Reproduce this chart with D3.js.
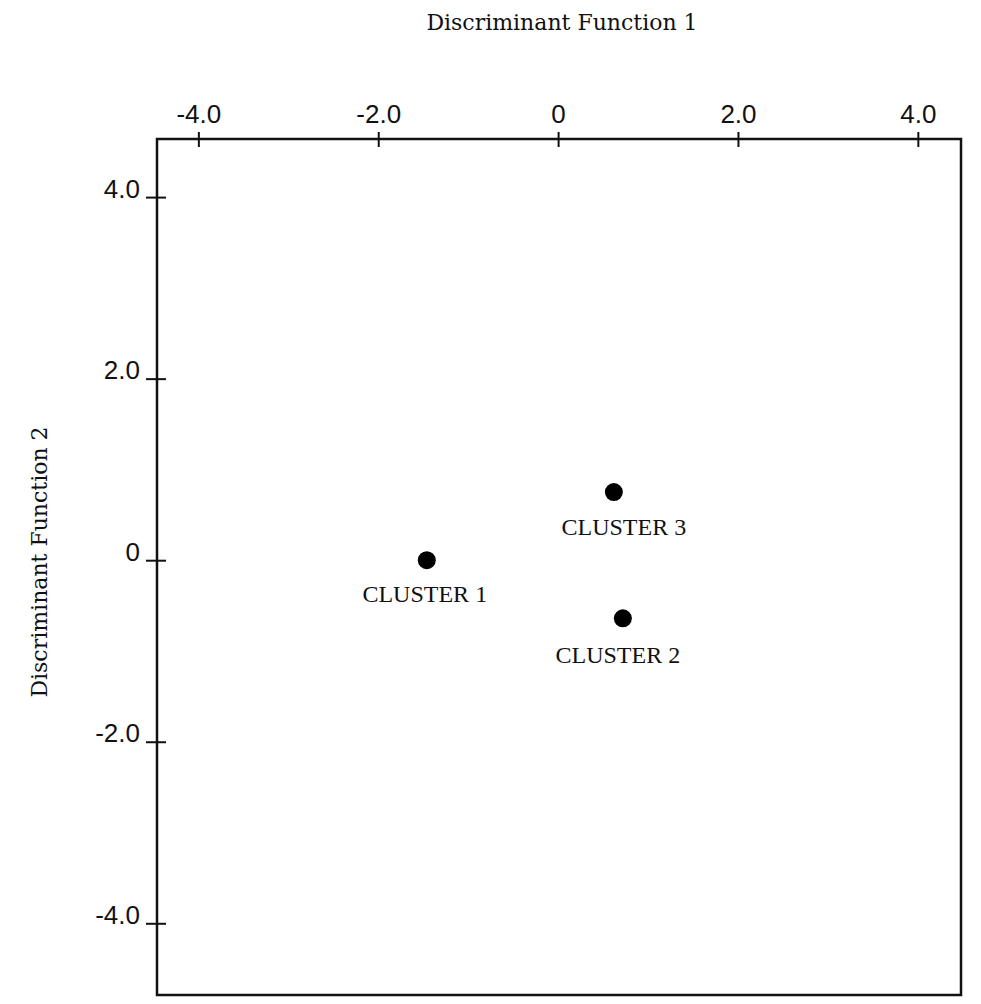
<!DOCTYPE html>
<html>
<head>
<meta charset="utf-8">
<script src="https://cdn.jsdelivr.net/npm/d3@7"></script>
<style>
  body { margin: 0; background: #fff; }
  .tick text { font-family: "Liberation Sans", Arial, sans-serif; font-size: 26px; fill: #111; }
  .lbl { font-family: "Liberation Serif", "Times New Roman", serif; font-size: 24px; fill: #111; }
  .title { font-family: "DejaVu Serif", serif; font-size: 22px; fill: #111; }
</style>
</head>
<body>
<div id="chart"></div>
<script>
'use strict'

// cluster centroids in discriminant space
const clusters = ["CLUSTER 1", "CLUSTER 2", "CLUSTER 3"]
const df1 = [-1.46, 0.72, 0.62]
const df2 = [0.0, -0.64, 0.75]

const xTicks = [-4, -2, 0, 2, 4]
const yTicks = [4, 2, 0, -2, -4]
const xDomain = [-4.46, 4.48]
const yDomain = [-4.79, 4.64]

// label offsets from the dot (px)
const labelDx = [-2, -5, 10]
const labelDy = [42, 45, 43]

// plain hyphen, "0" without decimals
function fmt(d) {
  return d === 0 ? "0" : d3.format(".1f")(d).replace("\u2212", "-")
}

const width = 981, height = 1004
const plotL = 157, plotR = 961, plotT = 139, plotB = 995

const svg = d3.select("#chart").append("svg")
  .attr("width", width)
  .attr("height", height)

svg.append("rect").attr("width", width).attr("height", height).attr("fill", "#fff")

const x = d3.scaleLinear().domain(xDomain).range([plotL, plotR])
const y = d3.scaleLinear().domain(yDomain).range([plotB, plotT])

// plot frame
svg.append("rect")
  .attr("x", plotL).attr("y", plotT)
  .attr("width", plotR - plotL).attr("height", plotB - plotT)
  .attr("fill", "none")
  .attr("stroke", "#111")
  .attr("stroke-width", 2.5)

const xAxis = svg.append("g")
  .attr("transform", "translate(0," + plotT + ")")
  .call(d3.axisTop(x).tickValues(xTicks).tickFormat(fmt).tickSize(7).tickPadding(9))
xAxis.select(".domain").remove()
xAxis.selectAll(".tick line").attr("y1", 8).attr("y2", -7).attr("stroke", "#111").attr("stroke-width", 2)

const yAxis = svg.append("g")
  .attr("transform", "translate(" + plotL + ",0)")
  .call(d3.axisLeft(y).tickValues(yTicks).tickFormat(fmt).tickSize(10).tickPadding(6))
yAxis.select(".domain").remove()
yAxis.selectAll(".tick line").attr("x1", 9).attr("x2", -11).attr("stroke", "#111").attr("stroke-width", 2)
yAxis.selectAll(".tick text").attr("dy", 0).attr("x", -17)

// axis titles
svg.append("text")
  .attr("class", "title")
  .attr("x", 562).attr("y", 30)
  .attr("text-anchor", "middle")
  .text("Discriminant Function 1")

svg.append("text")
  .attr("class", "title")
  .attr("transform", "translate(47,562) rotate(-90)")
  .attr("text-anchor", "middle")
  .text("Discriminant Function 2")

// centroids
const g = svg.append("g")
g.selectAll("circle")
  .data(clusters)
  .enter().append("circle")
    .attr("cx", (d, i) => x(df1[i]))
    .attr("cy", (d, i) => y(df2[i]))
    .attr("r", 9)
    .attr("fill", "#000")

g.selectAll("text")
  .data(clusters)
  .enter().append("text")
    .attr("class", "lbl")
    .attr("x", (d, i) => x(df1[i]) + labelDx[i])
    .attr("y", (d, i) => y(df2[i]) + labelDy[i])
    .attr("text-anchor", "middle")
    .text(d => d)
</script>
</body>
</html>
